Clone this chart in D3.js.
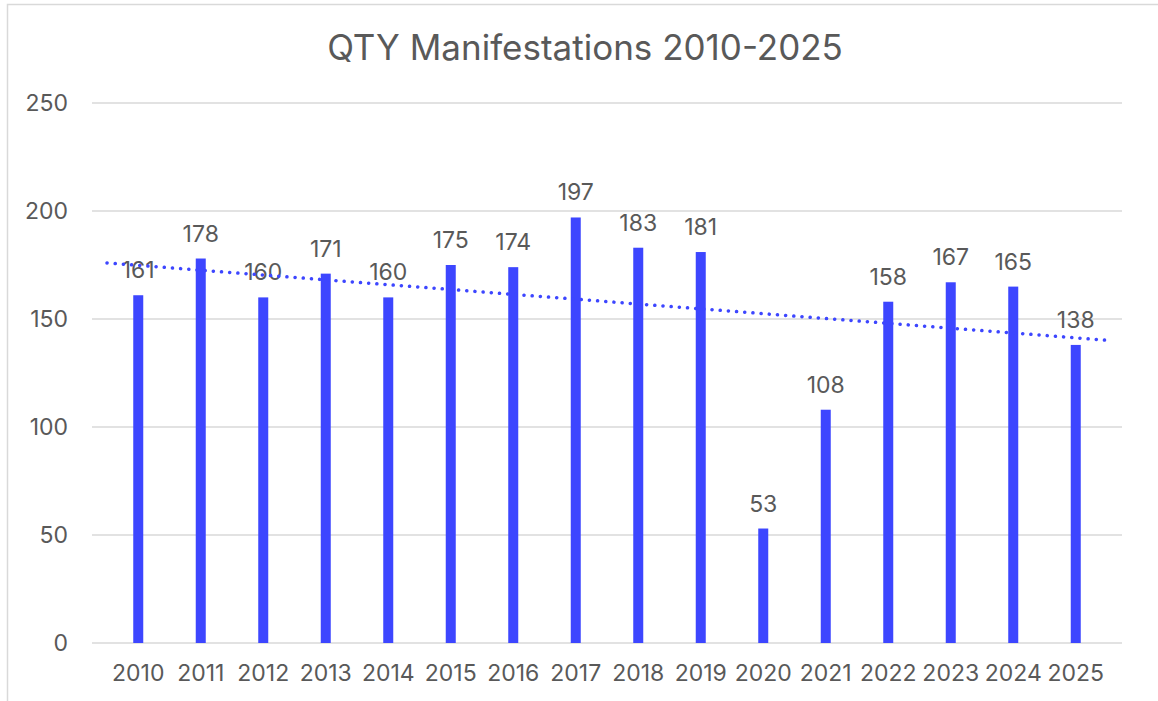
<!DOCTYPE html>
<html>
<head>
<meta charset="utf-8">
<script src="https://cdn.jsdelivr.net/npm/d3@7"></script>
<style>
  body { margin: 0; background: #fff; }
  svg { display: block; font-family: Inter, "Open Sans", sans-serif; }
</style>
</head>
<body>
<svg id="chart" width="1158" height="701"></svg>
<script>
var years = ['2010','2011','2012','2013','2014','2015','2016','2017','2018','2019','2020','2021','2022','2023','2024','2025'];
var qty = [161, 178, 160, 171, 160, 175, 174, 197, 183, 181, 53, 108, 158, 167, 165, 138];
var yTicks = [0, 50, 100, 150, 200, 250];
var chartTitle = 'QTY Manifestations 2010-2025';

var svg = d3.select('#chart');
var textColor = '#595959', gridColor = '#d9d9d9', barColor = '#3d46ff';
var fontSize = 23;

// outer frame (cut off at right/bottom like the original)
svg.append('rect')
	.attr('x', 7.5).attr('y', 4.5)
	.attr('width', 1200).attr('height', 760)
	.attr('fill', 'none')
	.attr('stroke', gridColor)
	.attr('stroke-width', 1.5);

var plotLeft = 107, plotRight = 1107, plotTop = 103, plotBottom = 643;

var x = d3.scaleBand()
	.domain(years)
	.range([plotLeft, plotRight])
	.paddingInner(0.84)
	.paddingOuter(0.42);

var y = d3.scaleLinear()
	.domain([0, 250])
	.range([plotBottom, plotTop]);

// gridlines
svg.append('g')
	.selectAll('line')
	.data(yTicks)
	.enter()
	.append('line')
	.attr('x1', 92)
	.attr('x2', 1122)
	.attr('y1', function (d) { return y(d); })
	.attr('y2', function (d) { return y(d); })
	.attr('stroke', gridColor)
	.attr('stroke-width', 1.5);

// y axis labels
var yAxis = d3.axisLeft(y).tickValues(yTicks).tickSize(0).tickPadding(0);
var yg = svg.append('g').attr('transform', 'translate(' + [68, 0] + ')').call(yAxis);
yg.select('.domain').remove();
yg.selectAll('text')
	.attr('fill', textColor)
	.attr('font-size', fontSize)
	.attr('font-family', 'Inter, "Open Sans", sans-serif');

// x axis labels
var xAxis = d3.axisBottom(x).tickSize(0).tickPadding(22);
var xg = svg.append('g').attr('transform', 'translate(' + [0, plotBottom] + ')').call(xAxis);
xg.select('.domain').remove();
xg.selectAll('text')
	.attr('fill', textColor)
	.attr('font-size', fontSize)
	.attr('font-family', 'Inter, "Open Sans", sans-serif');

// bars
svg.append('g')
	.selectAll('rect')
	.data(qty)
	.enter()
	.append('rect')
	.attr('x', function (d, i) { return x(years[i]); })
	.attr('y', function (d) { return y(d); })
	.attr('width', x.bandwidth())
	.attr('height', function (d) { return y(0) - y(d); })
	.attr('fill', barColor);

// value labels
svg.append('g')
	.selectAll('text')
	.data(qty)
	.enter()
	.append('text')
	.attr('x', function (d, i) { return x(years[i]) + x.bandwidth() / 2; })
	.attr('y', function (d) { return y(d) - 17; })
	.attr('text-anchor', 'middle')
	.attr('fill', textColor)
	.attr('font-size', fontSize)
	.text(function (d) { return d; });

// linear trendline (least squares over the year index)
var n = qty.length;
var meanX = (n - 1) / 2, meanY = d3.mean(qty);
var sxy = 0, sxx = 0;
qty.forEach(function (v, i) {
	sxy += (i - meanX) * (v - meanY);
	sxx += (i - meanX) * (i - meanX);
});
var slope = sxy / sxx, intercept = meanY - slope * meanX;
var idx = d3.scaleLinear().domain([-0.5, n - 0.5]).range([plotLeft, plotRight]);
var trend = [-0.5, n - 0.5].map(function (i) { return [idx(i), y(intercept + slope * i)]; });

svg.append('path')
	.attr('d', d3.line()(trend))
	.attr('fill', 'none')
	.attr('stroke', barColor)
	.attr('stroke-width', 3.5)
	.attr('stroke-linecap', 'round')
	.attr('stroke-dasharray', '0.1 8.1');

// title
svg.append('text')
	.attr('x', 585)
	.attr('y', 60)
	.attr('text-anchor', 'middle')
	.attr('fill', textColor)
	.attr('font-size', 35)
	.text(chartTitle);
</script>
</body>
</html>
